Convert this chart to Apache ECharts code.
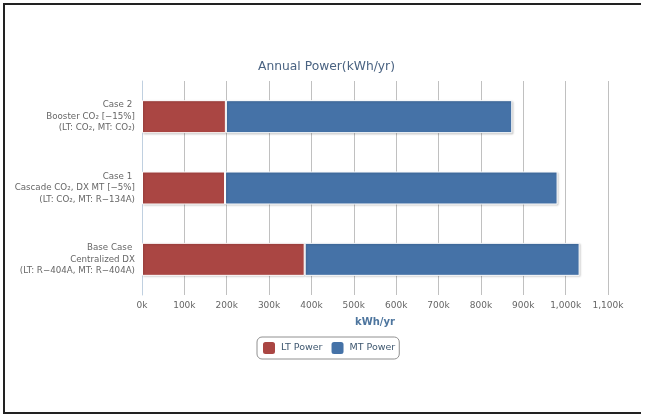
<!DOCTYPE html>
<html>
<head>
<meta charset="utf-8">
<script src="https://cdn.jsdelivr.net/npm/echarts@6/dist/echarts.min.js"></script>
<style>
html,body{margin:0;padding:0;background:#fff;overflow:hidden;}
#chart{position:absolute;left:0;top:0;width:647px;height:415px;}
</style>
</head>
<body>
<div id="chart"></div>
<script>
const categories = [
  'Base Case \nCentralized DX\n(LT: R\u2212404A, MT: R\u2212404A)',
  'Case 1 \nCascade CO\u2082, DX MT [\u22125%]\n(LT: CO\u2082, MT: R\u2212134A)',
  'Case 2 \nBooster CO\u2082 [\u221215%]\n(LT: CO\u2082, MT: CO\u2082)'
];
const ltPower = [384000, 196000, 198000];
const mtPower = [649000, 785000, 676000];
const seriesNames = ['LT Power', 'MT Power'];
const titleText = 'Annual Power(kWh/yr)';
const axisName = 'kWh/yr';

const FONT = '"DejaVu Sans", sans-serif';
const chart = echarts.init(document.getElementById('chart'), null, {renderer: 'canvas'});
const barStyle = (c) => ({
  color: c, borderColor: '#fff', borderWidth: 1,
  shadowColor: 'rgba(0,0,0,0.18)', shadowBlur: 2, shadowOffsetX: 1, shadowOffsetY: 1
});
const frameStyle = {fill: '#222'};
chart.setOption({
  animation: false,
  color: ['#AA4643', '#4572A7'],
  graphic: [
    {type: 'rect', silent: true, shape: {x: 3, y: 3, width: 638, height: 2}, style: frameStyle},
    {type: 'rect', silent: true, shape: {x: 3, y: 3, width: 2, height: 411}, style: frameStyle},
    {type: 'rect', silent: true, shape: {x: 3, y: 412, width: 638, height: 2}, style: frameStyle}
  ],
  title: {
    text: titleText, left: 253, top: 56,
    textStyle: {fontFamily: FONT, fontSize: 12.3, fontWeight: 'normal', color: '#4A6382'}
  },
  legend: {
    data: seriesNames, left: 257, top: 337,
    icon: 'roundRect', itemWidth: 14, itemHeight: 14, itemGap: 7,
    borderColor: '#909090', borderWidth: 1, borderRadius: 5, padding: [3, 4],
    textStyle: {fontFamily: FONT, fontSize: 9.5, color: '#3E576F'}
  },
  grid: {left: 142, right: 39, top: 81, bottom: 120, containLabel: false},
  xAxis: {
    type: 'value', min: 0, max: 1100000, interval: 100000,
    name: axisName, nameLocation: 'middle', nameGap: 22,
    nameTextStyle: {fontFamily: FONT, fontSize: 10, fontWeight: 'bold', color: '#4D759E'},
    axisLine: {show: false}, axisTick: {show: false},
    axisLabel: {
      fontFamily: FONT, fontSize: 9, color: '#666', margin: 6,
      formatter: v => (v / 1000).toLocaleString('en-US') + 'k'
    },
    splitLine: {lineStyle: {color: '#C0C0C0', width: 1}}
  },
  yAxis: {
    type: 'category', data: categories,
    axisLine: {lineStyle: {color: '#C0D0E0'}},
    axisTick: {length: 4, lineStyle: {color: '#C0D0E0'}},
    axisLabel: {fontFamily: FONT, fontSize: 8.7, color: '#666', lineHeight: 11.5, margin: 7, align: 'right'}
  },
  series: [
    {name: seriesNames[0], type: 'bar', stack: 'p', data: ltPower, barWidth: 33, itemStyle: barStyle('#AA4643')},
    {name: seriesNames[1], type: 'bar', stack: 'p', data: mtPower, barWidth: 33, itemStyle: barStyle('#4572A7')}
  ]
});
</script>
</body>
</html>
